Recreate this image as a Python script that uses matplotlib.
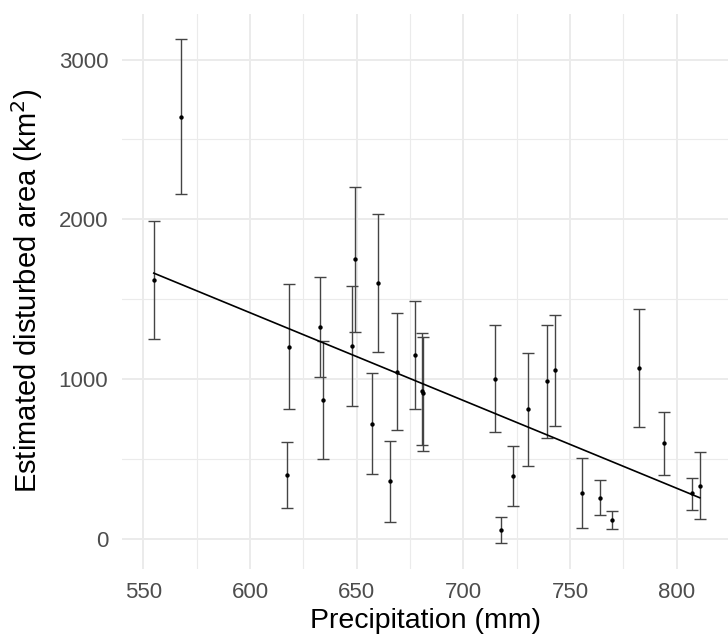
import numpy as np
import matplotlib
matplotlib.use("Agg")
import matplotlib.pyplot as plt
from matplotlib.ticker import MultipleLocator

# values
precip = [554.9, 567.7, 617.5, 618.4, 632.9, 634.4, 647.8, 649.4, 657.4, 660.2,
          665.8, 668.9, 677.5, 680.6, 681.0, 715.0, 717.8, 723.5, 730.2, 739.4,
          742.9, 755.5, 764.0, 769.9, 782.4, 794.1, 807.4, 810.9]
area = [1622, 2642, 399, 1202, 1324, 871, 1209, 1750, 721, 1601,
        364, 1044, 1148, 925, 912, 1002, 54, 391, 810, 985,
        1056, 286, 257, 116, 1069, 597, 284, 332]
area_lo = [1250, 2158, 192, 810, 1014, 501, 830, 1294, 407, 1168,
           107, 678, 811, 587, 551, 666, -29, 203, 455, 628,
           708, 67, 147, 58, 699, 397, 178, 125]
area_hi = [1989, 3129, 607, 1592, 1637, 1238, 1584, 2200, 1036, 2033,
           612, 1411, 1488, 1286, 1265, 1338, 138, 579, 1161, 1340,
           1401, 505, 367, 173, 1440, 793, 380, 541]

x = np.array(precip)
y = np.array(area)
lo = np.array(area_lo)
hi = np.array(area_hi)

plt.rcParams['font.family'] = ['Liberation Sans', 'DejaVu Sans']

fig = plt.figure(figsize=(7.28, 6.37), dpi=100)
ax = fig.add_axes([122 / 728, 1 - 568.6 / 637, 606 / 728, (568.6 - 13.8) / 637])

# errorbars and points
ax.errorbar(x, y, yerr=[y - lo, hi - y], fmt='none', ecolor='#444444',
            elinewidth=1.0, capsize=4.3, capthick=1.0, zorder=3)
ax.scatter(x, y, s=10, color='black', zorder=4, linewidths=0)

# linear fit over the data range
slope, intercept = np.polyfit(x, y, 1)
xs = np.array([x.min(), x.max()])
ax.plot(xs, intercept + slope * xs, color='black', linewidth=1.2, zorder=5)

ax.set_xlim(540, 824.1)
yr = hi.max() - lo.min()
ax.set_ylim(lo.min() - 0.05 * yr, hi.max() + 0.05 * yr)

ax.xaxis.set_major_locator(MultipleLocator(50))
ax.xaxis.set_minor_locator(MultipleLocator(25))
ax.yaxis.set_major_locator(MultipleLocator(1000))
ax.yaxis.set_minor_locator(MultipleLocator(500))
ax.grid(which='major', color='#ebebeb', linewidth=1.4, zorder=0)
ax.grid(which='minor', color='#ebebeb', linewidth=0.8, zorder=0)
ax.set_axisbelow(True)
for s in ax.spines.values():
    s.set_visible(False)
ax.tick_params(which='both', length=0)
ax.tick_params(axis='both', labelsize=16, colors='#4d4d4d')
ax.tick_params(axis='x', pad=10)
ax.tick_params(axis='y', pad=10)

ax.set_xlabel('Precipitation (mm)', fontsize=20.5, labelpad=3)
ax.set_ylabel('Estimated disturbed area (km$^2$)', fontsize=21, labelpad=10)

fig.savefig('out.png', dpi=100)
